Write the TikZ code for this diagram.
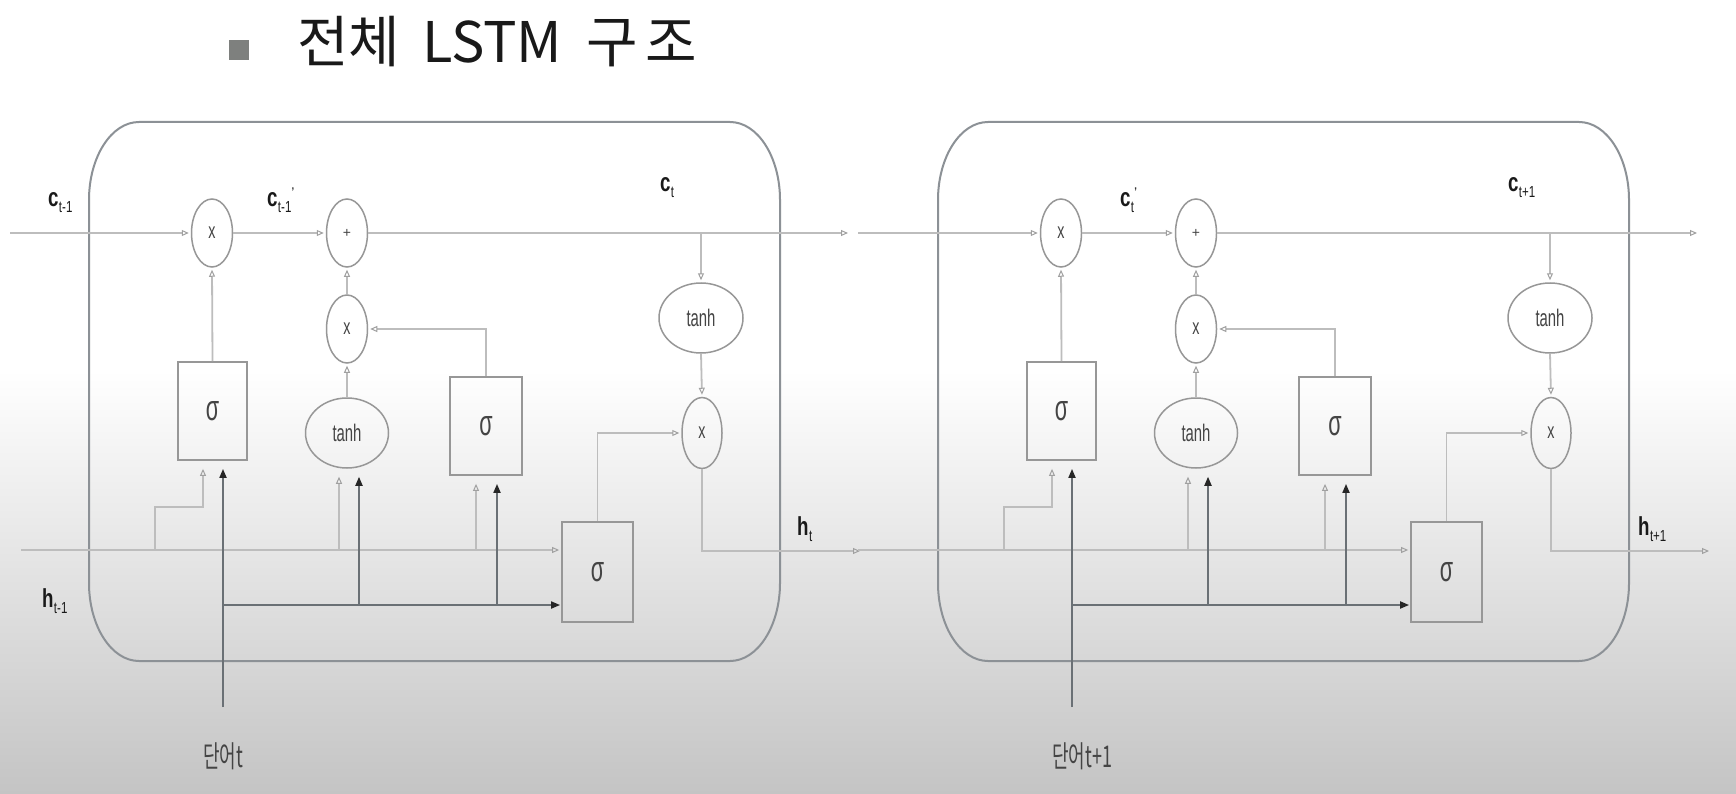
\documentclass[tikz,border=0pt]{standalone}
\usepackage{fontspec}
\usepackage{graphicx}
\setmainfont{Liberation Sans}
\newfontfamily\kr{Noto Sans CJK KR}
\usetikzlibrary{shapes.geometric,arrows.meta,calc}
\definecolor{ltg}{HTML}{BDBDBD}
\definecolor{ltarrow}{HTML}{A0A0A0}
\definecolor{shp}{HTML}{979797}
\definecolor{boxln}{HTML}{8C9196}
\definecolor{dkg}{HTML}{6A7075}
\definecolor{txt}{HTML}{444444}
\definecolor{bggray}{HTML}{C4C4C4}
\definecolor{bulletg}{HTML}{7E807E}
\newcommand\vlab[2]{\scalebox{0.72}[1]{\fontsize{26}{26}\selectfont\bfseries #1\kern0.5pt\raisebox{-6pt}{\fontsize{16}{16}\selectfont\mdseries #2}}}
\newcommand\prm{\raisebox{9pt}{\fontsize{14}{14}\selectfont\mdseries '}}
\newcommand\sig{\scalebox{0.6}[1]{\fontsize{36}{36}\selectfont σ}}
\newcommand\tanhtxt{\scalebox{0.62}[1]{\fontsize{24}{24}\selectfont tanh}}
\newcommand\opx{\scalebox{0.65}[1]{\fontsize{22}{22}\selectfont x}}
\newcommand\opplus{{\fontsize{14}{14}\selectfont +}}
\newcommand\wlab[1]{\scalebox{0.6}[1]{\kr\fontsize{30}{30}\selectfont #1}}
\tikzset{
  op/.style={ellipse,draw=shp,line width=1.5pt,minimum width=41pt,minimum height=68pt,inner sep=0pt,text=txt},
  tanhn/.style={ellipse,draw=shp,line width=1.5pt,minimum width=84pt,minimum height=70pt,inner sep=0pt,text=txt},
  gatebox/.style={rectangle,draw=shp,line width=1.8pt,minimum width=70pt,minimum height=98pt,inner sep=0pt,text=txt},
  lt/.style={draw=ltg,line width=1.8pt,-{Triangle[open,length=7pt,width=6pt,line width=1pt,color=ltarrow]},shorten >=2pt},
  ltb/.style={draw=ltg,line width=1.8pt,-{Triangle[open,length=7pt,width=6pt,line width=1pt,color=ltarrow]},shorten >=8pt},
  dk/.style={draw=dkg,line width=1.8pt,-{Triangle[length=9pt,width=7pt,color=black!85]},shorten >=1pt},
  dkb/.style={draw=dkg,line width=1.8pt,-{Triangle[length=9pt,width=7pt,color=black!85]},shorten >=8pt},
  cellline/.style={draw=boxln,line width=2pt},
  lab/.style={inner sep=0pt,text=black!90},
  wl/.style={inner sep=0pt,text=txt,anchor=south west}
}
\newcommand\lstmcell[4]{%
\begin{scope}[xshift=#2pt]
 \draw[cellline] (139,122) -- (730,122) arc[start angle=270,end angle=360,x radius=50,y radius=78]
   -- (780,583) arc[start angle=0,end angle=90,x radius=50,y radius=78]
   -- (139,661) arc[start angle=90,end angle=180,x radius=50,y radius=78]
   -- (89,200) arc[start angle=180,end angle=270,x radius=50,y radius=78] -- cycle;
 \node[op] (fx#1) at (212,233) {\opx};
 \node[op] (pl#1) at (347,233) {\opplus};
 \node[op] (ix#1) at (347,329) {\opx};
 \node[op,minimum width=40pt,minimum height=71pt] (ox#1) at (702,433) {\opx};
 \node[gatebox,minimum width=69pt] (fg#1) at (212.5,411) {\sig};
 \node[gatebox,minimum width=72pt] (ig#1) at (486,426) {\sig};
 \node[gatebox,minimum width=71pt,minimum height=100pt] (og#1) at (597.5,572) {\sig};
 \node[tanhn,minimum width=83pt] (ct#1) at (347,433) {\tanhtxt};
 \node[tanhn] (ot#1) at (701,318) {\tanhtxt};
 \coordinate (cin#1) at (#3,233);
 \coordinate (cout#1) at (850,233);
 \coordinate (ctap#1) at (701,233);
 \coordinate (hin#1) at (#4,550);
 \coordinate (hout#1) at (862,551);
 \coordinate (hb#1) at (155,550);
 \coordinate (fgin#1) at (203,507);
 \coordinate (hc#1) at (339,550);
 \coordinate (hi#1) at (476,550);
 \coordinate (wbot#1) at (223,707);
 \coordinate (wj#1) at (223,605);
 \coordinate (wc#1) at (359,605);
 \coordinate (wi#1) at (497,605);
 \draw[lt] (cin#1) -- (fx#1.west);
 \draw[lt] (fx#1.east) -- (pl#1.west);
 \draw[lt] (pl#1.east) -- (cout#1);
 \draw[lt] (ctap#1) -- (ot#1.north);
 \draw[lt] (ot#1.south) -- (ox#1.north);
 \draw[lt] (fg#1.north) -- (fx#1.south);
 \draw[lt] (ig#1.north) |- (ix#1.east);
 \draw[lt] (ix#1.north) -- (pl#1.south);
 \draw[lt] (ct#1.north) -- (ix#1.south);
 \draw[lt] (og#1.north) |- (ox#1.west);
 \draw[lt] (ox#1.south) |- (hout#1);
 \draw[lt] (hin#1) -- (og#1.west |- hin#1);
 \draw[ltb] (hb#1) |- (fgin#1) -- (fgin#1 |- fg#1.south);
 \draw[ltb] (hc#1) -- (hc#1 |- ct#1.south);
 \draw[ltb] (hi#1) -- (hi#1 |- ig#1.south);
 \draw[dkb] (wbot#1) -- (wbot#1 |- fg#1.south);
 \draw[dk] (wj#1) -- (og#1.west |- wj#1);
 \draw[dkb] (wc#1) -- (wc#1 |- ct#1.south);
 \draw[dkb] (wi#1) -- (wi#1 |- ig#1.south);
\end{scope}}
\begin{document}
\begin{tikzpicture}[x=1pt,y=-1pt]
\useasboundingbox (0,0) rectangle (1736,794);
\fill[white] (0,0) rectangle (1736,794);
\shade[top color=white,bottom color=bggray] (0,370) rectangle (1736,794);
% title
\node[fill=bulletg,minimum size=20pt,inner sep=0pt] (bullet) at (239,50) {};
\node[anchor=base west,inner sep=0pt,text=black!90] (title) at (297,63) {\kr\fontsize{56}{60}\selectfont 전체\hspace{22pt}LSTM\hspace{24pt}구\kern8pt 조};
% cells
\lstmcell{a}{0}{10}{21}
\lstmcell{b}{849}{9}{9}
% labels
\node[lab,anchor=base west] (lca) at (48,207) {\vlab{c}{t-1}};
\node[lab,anchor=base west] (lcpa) at (267,207) {\vlab{c}{t-1}\prm};
\node[lab,anchor=base west] (lcta) at (660,192) {\vlab{c}{t}};
\node[lab,anchor=base west] (lha) at (42,607) {\vlab{h}{t-1}};
\node[lab,anchor=base west] (lhta) at (797,535) {\vlab{h}{t}};
\node[wl] (wla) at (203,770) {\wlab{단어t}};
\node[lab,anchor=base west] (lcpb) at (1120,207) {\vlab{c}{t}\prm};
\node[lab,anchor=base west] (lctb) at (1508,192) {\vlab{c}{t+1}};
\node[lab,anchor=base west] (lhtb) at (1638,535) {\vlab{h}{t+1}};
\node[wl] (wlb) at (1052,770) {\wlab{단어t+1}};
\end{tikzpicture}
\end{document}
